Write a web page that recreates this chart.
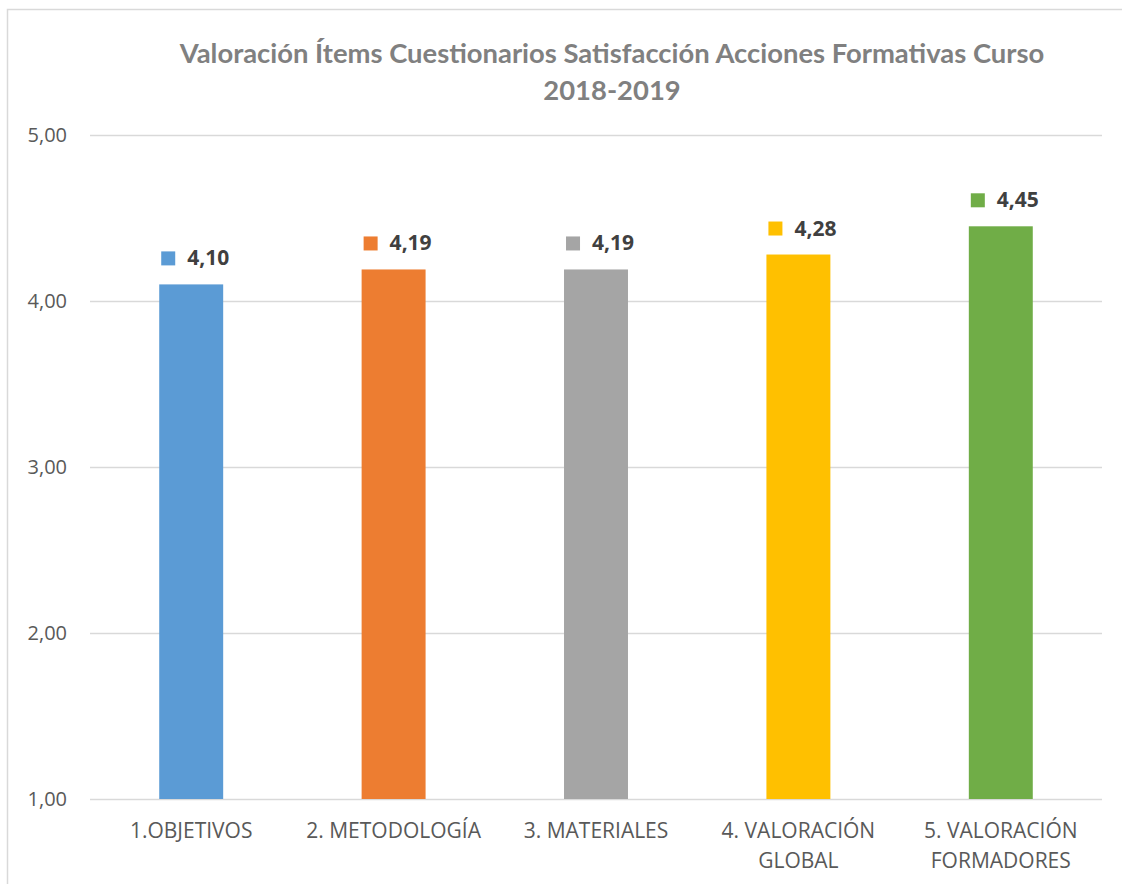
<!DOCTYPE html>
<html>
<head>
<meta charset="utf-8">
<script src="https://cdn.jsdelivr.net/npm/d3@7"></script>
<style>
	body { margin: 0; background: #fff; }
	svg { display: block; }
</style>
</head>
<body>
<script>
// chart data
const categories = ['1.OBJETIVOS', '2. METODOLOGÍA', '3. MATERIALES', '4. VALORACIÓN GLOBAL', '5. VALORACIÓN FORMADORES'];
const categoryLines = [['1.OBJETIVOS'], ['2. METODOLOGÍA'], ['3. MATERIALES'], ['4. VALORACIÓN', 'GLOBAL'], ['5. VALORACIÓN', 'FORMADORES']];
const values = [4.10, 4.19, 4.19, 4.28, 4.45];
const barColors = ['#5B9BD5', '#ED7D31', '#A5A5A5', '#FFC000', '#70AD47'];
const yTicks = [1, 2, 3, 4, 5];
const titleLines = ['Valoración Ítems Cuestionarios Satisfacción Acciones Formativas Curso', '2018-2019'];

const W = 1122;
const H = 884;
const margin = { top: 135, right: 20, bottom: 85, left: 90 };
const width = 1102 - margin.left;
const height = 799 - margin.top;

const fmt = v => d3.format('.2f')(v).replace('.', ',');

const root = d3
	.select('body')
	.append('svg')
	.attr('width', W)
	.attr('height', H);

// outer chart frame (only top & left visible in the crop)
root.append('rect')
	.attr('x', 7.5)
	.attr('y', 9.5)
	.attr('width', W + 10)
	.attr('height', H + 10)
	.attr('fill', 'none')
	.attr('stroke', '#D9D9D9')
	.attr('stroke-width', 1.5);

// title
root.append('text')
	.attr('x', 612)
	.attr('y', 63)
	.attr('text-anchor', 'middle')
	.style('font-family', 'Lato, sans-serif')
	.style('font-weight', 'bold')
	.style('font-size', '27.4px')
	.style('fill', '#808080')
	.selectAll('tspan')
	.data(titleLines)
	.enter()
	.append('tspan')
	.attr('x', 612)
	.attr('dy', (d, i) => i === 0 ? 0 : 37)
	.text(d => d);

const svg = root.append('g')
	.attr('transform', `translate(${margin.left},${margin.top})`);

const xscale = d3
	.scaleBand()
	.domain(categories)
	.range([0, width])
	.paddingInner(0.684)
	.paddingOuter(0.342);

const yscale = d3
	.scaleLinear()
	.domain([1, 5])
	.range([height, 0]);

const yAxis = d3
	.axisLeft(yscale)
	.tickValues(yTicks)
	.tickSize(-width)
	.tickPadding(23)
	.tickFormat(fmt);

const gy = svg.append('g')
	.attr('class', 'y axis')
	.call(yAxis);

gy.select('.domain').remove();
gy.selectAll('.tick line')
	.attr('stroke', '#D9D9D9')
	.attr('stroke-width', 1.5);
gy.selectAll('.tick text')
	.style('font-family', '"Open Sans", sans-serif')
	.style('font-size', '20px')
	.style('fill', '#595959');

// bars
svg.selectAll('rect.bar')
	.data(values)
	.enter()
	.append('rect')
	.attr('class', 'bar')
	.attr('x', (d, i) => xscale(categories[i]))
	.attr('width', xscale.bandwidth())
	.attr('y', d => yscale(d))
	.attr('height', d => height - yscale(d))
	.attr('fill', (d, i) => barColors[i]);

// data labels with legend keys
const labels = svg.selectAll('g.label')
	.data(values)
	.enter()
	.append('g')
	.attr('class', 'label')
	.attr('transform', (d, i) => `translate(${xscale(categories[i])},${yscale(d) - 19})`);

labels.append('rect')
	.attr('x', 2)
	.attr('y', -14)
	.attr('width', 14)
	.attr('height', 14)
	.attr('fill', (d, i) => barColors[i]);

labels.append('text')
	.attr('x', 28)
	.attr('y', 0)
	.style('font-family', '"Open Sans", sans-serif')
	.style('font-weight', 'bold')
	.style('font-size', '21px')
	.style('fill', '#404040')
	.text(d => fmt(d));

// category labels
const cats = svg.selectAll('text.cat')
	.data(categoryLines)
	.enter()
	.append('text')
	.attr('class', 'cat')
	.attr('text-anchor', 'middle')
	.attr('y', height + 39)
	.style('font-family', '"Open Sans", sans-serif')
	.style('font-size', '21px')
	.style('fill', '#595959');

cats.selectAll('tspan')
	.data((d, i) => d.map(t => ({ t, i })))
	.enter()
	.append('tspan')
	.attr('x', d => xscale(categories[d.i]) + xscale.bandwidth() / 2)
	.attr('dy', (d, j) => j === 0 ? 0 : 30)
	.text(d => d.t);
</script>
</body>
</html>
